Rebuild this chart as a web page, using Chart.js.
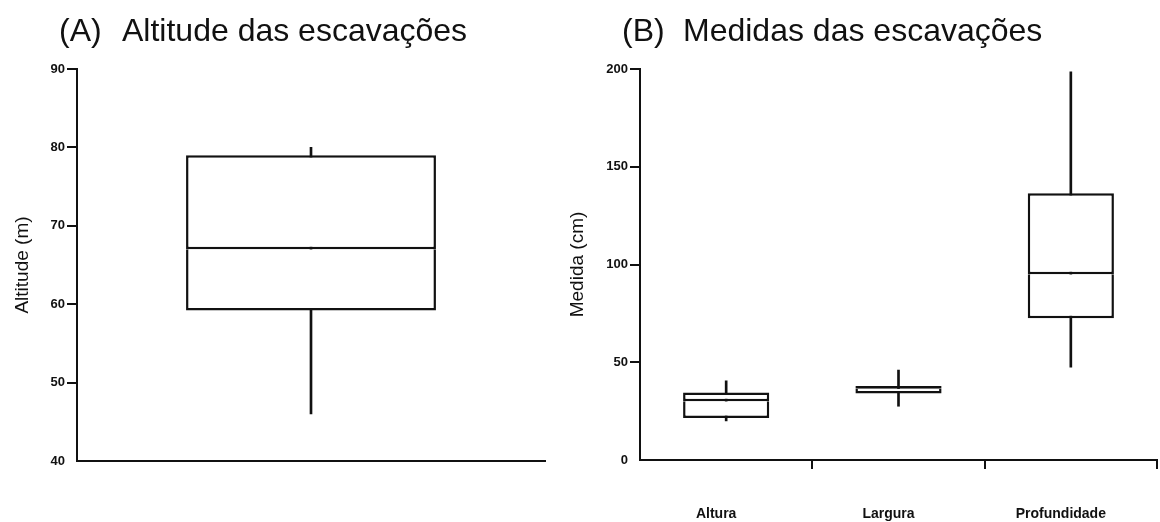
<!DOCTYPE html>
<html>
<head>
<meta charset="utf-8">
<script src="https://cdn.jsdelivr.net/npm/chart.js@4.4.1/dist/chart.umd.min.js"></script>
<style>
  html, body { margin: 0; padding: 0; background: #fff; }
  #page { position: relative; width: 1160px; height: 522px; overflow: hidden; background: #fff; }
  .panel { position: absolute; top: 0; }
  .title { position: absolute; top: 14px; font: 32px "Liberation Sans", Arial, sans-serif; line-height: 32px; color: #111; white-space: nowrap; }
</style>
</head>
<body>
<div id="page">
  <canvas id="chartA" class="panel" width="560" height="522" style="left:0"></canvas>
  <canvas id="chartB" class="panel" width="600" height="522" style="left:560px"></canvas>
  <div class="title" style="left:59px">(A)</div>
  <div class="title" style="left:122px">Altitude das escavações</div>
  <div class="title" style="left:622px">(B)</div>
  <div class="title" style="left:683px">Medidas das escavações</div>
</div>
<script>
// (A) altitude, one box
const altLabels = ['Altitude'];
const altMin = [46];
const altQ1 = [59.2];
const altMedian = [67];
const altQ3 = [79];
const altMax = [80];
const altTicks = { min: 40, max: 90, step: 10 };

// (B) measures, three boxes
const medLabels = ['Altura', 'Largura', 'Profundidade'];
const medMin = [20, 27.5, 47.5];
const medQ1 = [21.5, 34, 72.5];
const medMedian = [30, 36.5, 95];
const medQ3 = [34.5, 37.8, 136.5];
const medMax = [40.5, 46, 198.5];
const medTicks = { min: 0, max: 200, step: 50 };

const ink = '#111';
const family = '"Liberation Sans", Arial, sans-serif';

// whisker = thin floating bar behind, box = two floating bars split at the median
// (the upper half's bottom border is the median line)
function boxDatasets(mins, q1s, meds, q3s, maxs, share) {
  const pair = (a, b) => a.map((v, i) => [v, b[i]]);
  return [
    { label: 'whisker', data: pair(mins, maxs), backgroundColor: ink, barThickness: 2, order: 3 },
    { label: 'lower', data: pair(q1s, meds), backgroundColor: '#fff', borderColor: ink,
      borderWidth: { top: 0, right: 2.5, bottom: 2.5, left: 2.5 }, barPercentage: share, order: 2 },
    { label: 'upper', data: pair(meds, q3s), backgroundColor: '#fff', borderColor: ink,
      borderWidth: { top: 2.5, right: 2.5, bottom: 2.5, left: 2.5 }, barPercentage: share, order: 1 }
  ].map(d => Object.assign({ grouped: false, borderSkipped: false, categoryPercentage: 1 }, d));
}

function yAxis(t, title, width, titlePad) {
  return {
    min: t.min,
    max: t.max,
    afterFit: s => { s.width = width; },
    ticks: { stepSize: t.step, color: ink, padding: 2, font: { family, size: 13, weight: 'bold' } },
    grid: {
      drawOnChartArea: false, lineWidth: 2, tickLength: 10,
      color: ctx => (ctx.tick && ctx.tick.value === t.min ? 'rgba(0,0,0,0)' : ink)
    },
    border: { color: ink, width: 2 },
    title: { display: true, text: title, color: ink, font: { family, size: 19 }, padding: { top: titlePad, bottom: 0 } }
  };
}

const common = {
  responsive: false,
  animation: false,
  devicePixelRatio: 1,
  plugins: { legend: { display: false }, tooltip: { enabled: false } }
};

new Chart(document.getElementById('chartA'), {
  type: 'bar',
  data: { labels: altLabels, datasets: boxDatasets(altMin, altQ1, altMedian, altQ3, altMax, 0.534) },
  options: Object.assign({}, common, {
    layout: { padding: { left: 0, top: 69, right: 15, bottom: 0 } },
    scales: {
      x: {
        afterFit: s => { s.height = 61; },
        ticks: { display: false },
        grid: { display: false },
        border: { color: ink, width: 2 }
      },
      y: yAxis(altTicks, 'Altitude (m)', 77, 11)
    }
  })
});

new Chart(document.getElementById('chartB'), {
  type: 'bar',
  data: { labels: medLabels, datasets: boxDatasets(medMin, medQ1, medMedian, medQ3, medMax, 0.5) },
  options: Object.assign({}, common, {
    layout: { padding: { left: 0, top: 69, right: 3, bottom: 0 } },
    scales: {
      x: {
        afterFit: s => { s.height = 62; },
        ticks: { color: ink, padding: 37, labelOffset: -10, font: { family, size: 14, weight: 'bold' } },
        grid: {
          offset: true, drawOnChartArea: false, lineWidth: 2, tickLength: 9,
          color: ctx => (ctx.index === 0 ? 'rgba(0,0,0,0)' : ink)
        },
        border: { color: ink, width: 2 }
      },
      y: yAxis(medTicks, 'Medida (cm)', 80, 6)
    }
  })
});
</script>
</body>
</html>
